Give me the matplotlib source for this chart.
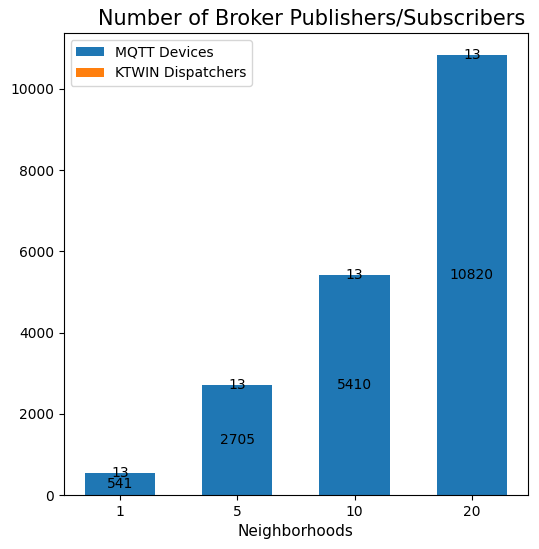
import numpy as np
import matplotlib
matplotlib.use("Agg")
import matplotlib.pyplot as plt

neighborhoods = ["1", "5", "10", "20"]
mqtt_devices = [541, 2705, 5410, 10820]
ktwin_dispatchers = [13, 13, 13, 13]

fig, ax = plt.subplots(figsize=(5.39, 5.49), dpi=100)

x = np.arange(len(neighborhoods))
width = 0.6

b1 = ax.bar(x, mqtt_devices, width, label="MQTT Devices")
b2 = ax.bar(x, ktwin_dispatchers, width, bottom=mqtt_devices, label="KTWIN Dispatchers")
ax.bar_label(b1, label_type="center")
ax.bar_label(b2, label_type="center")

ax.set_xticks(x)
ax.set_xticklabels(neighborhoods)
ax.set_xlabel("Neighborhoods", fontsize=11)
ax.set_title("Number of Broker Publishers/Subscribers", fontsize=15, x=0.533)
ax.legend(loc="upper left")

fig.subplots_adjust(left=0.118, right=0.98, top=0.94, bottom=0.098)
fig.savefig("out.png", dpi=100)
